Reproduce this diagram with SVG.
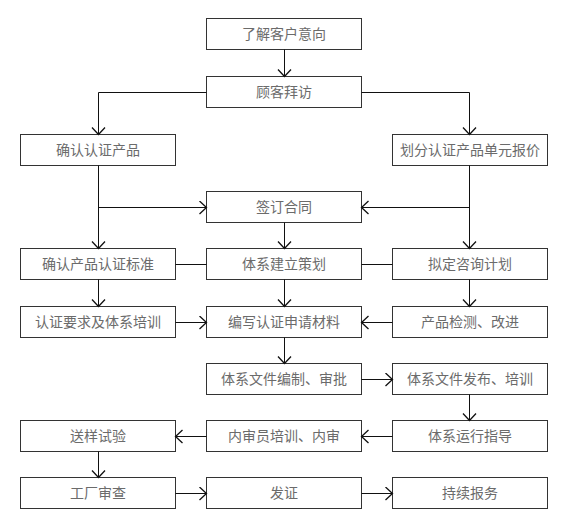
<svg xmlns="http://www.w3.org/2000/svg" width="572" height="518" viewBox="0 0 572 518">
<defs>
<marker id="ah" markerWidth="16" markerHeight="16" refX="8" refY="7" orient="auto" markerUnits="userSpaceOnUse" viewBox="0 0 16 16">
<path d="M1,0.5 L8,7 L1,13.5" fill="none" stroke="#111" stroke-width="1.3"/>
</marker>
</defs>
<style>
.box{fill:#fff;stroke:#333;stroke-width:1}
.t{font-family:"Noto Sans CJK SC","Noto Sans",sans-serif;font-size:14px;fill:#6b6b6b;text-anchor:middle}
.c{fill:none;stroke:#111;stroke-width:1}
.a{marker-end:url(#ah)}
</style>
<rect width="572" height="518" fill="#fff"/>
<g id="n1"><rect class="box" x="206.5" y="18.5" width="155" height="31"/><text class="t" x="284" y="39">了解客户意向</text></g>
<g id="n2"><rect class="box" x="206.5" y="76.5" width="155" height="31"/><text class="t" x="284" y="97">顾客拜访</text></g>
<g id="n3"><rect class="box" x="20.5" y="134.5" width="155" height="31"/><text class="t" x="98" y="155">确认认证产品</text></g>
<g id="n4"><rect class="box" x="392.5" y="134.5" width="155" height="31"/><text class="t" x="470" y="155">划分认证产品单元报价</text></g>
<g id="n5"><rect class="box" x="206.5" y="191.5" width="155" height="31"/><text class="t" x="284" y="212">签订合同</text></g>
<g id="n6"><rect class="box" x="20.5" y="248.5" width="155" height="31"/><text class="t" x="98" y="269">确认产品认证标准</text></g>
<g id="n7"><rect class="box" x="206.5" y="248.5" width="155" height="31"/><text class="t" x="284" y="269">体系建立策划</text></g>
<g id="n8"><rect class="box" x="392.5" y="248.5" width="155" height="31"/><text class="t" x="470" y="269">拟定咨询计划</text></g>
<g id="n9"><rect class="box" x="20.5" y="306.5" width="155" height="31"/><text class="t" x="98" y="327">认证要求及体系培训</text></g>
<g id="n10"><rect class="box" x="206.5" y="306.5" width="155" height="31"/><text class="t" x="284" y="327">编写认证申请材料</text></g>
<g id="n11"><rect class="box" x="392.5" y="306.5" width="155" height="31"/><text class="t" x="470" y="327">产品检测、改进</text></g>
<g id="n12"><rect class="box" x="206.5" y="363.5" width="155" height="31"/><text class="t" x="284" y="384">体系文件编制、审批</text></g>
<g id="n13"><rect class="box" x="392.5" y="363.5" width="155" height="31"/><text class="t" x="470" y="384">体系文件发布、培训</text></g>
<g id="n14"><rect class="box" x="20.5" y="420.5" width="155" height="31"/><text class="t" x="98" y="441">送样试验</text></g>
<g id="n15"><rect class="box" x="206.5" y="420.5" width="155" height="31"/><text class="t" x="284" y="441">内审员培训、内审</text></g>
<g id="n16"><rect class="box" x="392.5" y="420.5" width="155" height="31"/><text class="t" x="470" y="441">体系运行指导</text></g>
<g id="n17"><rect class="box" x="20.5" y="477.5" width="155" height="31"/><text class="t" x="98" y="498">工厂审查</text></g>
<g id="n18"><rect class="box" x="206.5" y="477.5" width="155" height="31"/><text class="t" x="284" y="498">发证</text></g>
<g id="n19"><rect class="box" x="392.5" y="477.5" width="155" height="31"/><text class="t" x="470" y="498">持续报务</text></g>
<g id="connectors">
<path class="c a" d="M284.5,49.5 V76.5"/>
<path class="c a" d="M206.5,92.5 H98.5 V134.5"/>
<path class="c a" d="M361.5,92.5 H469.5 V134.5"/>
<path class="c a" d="M98.5,165.5 V248.5"/>
<path class="c a" d="M98.5,207.5 H206.5"/>
<path class="c a" d="M469.5,165.5 V248.5"/>
<path class="c a" d="M469.5,207.5 H361.5"/>
<path class="c a" d="M284.5,222.5 V248.5"/>
<path class="c" d="M175.5,264.5 H206.5"/>
<path class="c" d="M361.5,264.5 H392.5"/>
<path class="c a" d="M98.5,279.5 V306.5"/>
<path class="c a" d="M284.5,279.5 V306.5"/>
<path class="c a" d="M469.5,279.5 V306.5"/>
<path class="c a" d="M175.5,322.5 H206.5"/>
<path class="c a" d="M392.5,322.5 H361.5"/>
<path class="c a" d="M284.5,337.5 V363.5"/>
<path class="c a" d="M361.5,379.5 H392.5"/>
<path class="c a" d="M469.5,394.5 V420.5"/>
<path class="c a" d="M392.5,436.5 H361.5"/>
<path class="c a" d="M206.5,436.5 H175.5"/>
<path class="c a" d="M98.5,451.5 V477.5"/>
<path class="c a" d="M175.5,493.5 H206.5"/>
<path class="c a" d="M361.5,493.5 H392.5"/>
</g>
</svg>
